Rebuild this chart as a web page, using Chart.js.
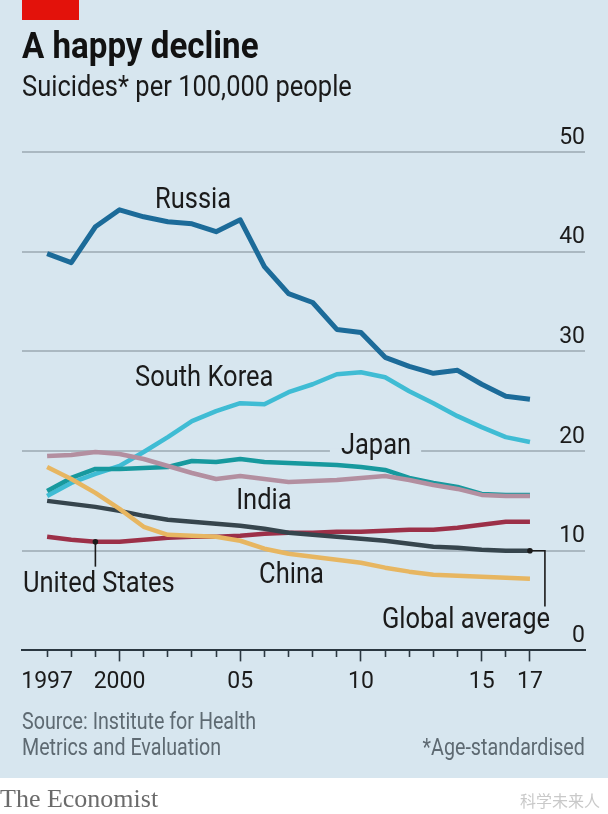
<!DOCTYPE html>
<html><head><meta charset="utf-8">
<script src="https://cdn.jsdelivr.net/npm/chart.js@4.4.1/dist/chart.umd.min.js"></script>
<style>
html,body{margin:0;padding:0;background:#fff;}
#wrap{position:relative;width:608px;height:814px;overflow:hidden;background:#fff;}
#panel{position:absolute;left:0;top:0;width:608px;height:778px;background:#d7e6ef;}
#red{position:absolute;left:22px;top:0;width:57px;height:20px;background:#e3120b;}
canvas{position:absolute;left:0;top:0;}
.t{position:absolute;white-space:nowrap;font-family:Roboto,"Noto Sans",sans-serif;line-height:1;z-index:2;transform-origin:left top;}
#title{left:22px;top:28px;font-size:36px;font-weight:bold;color:#121212;transform:scaleX(0.92);}
#sub{left:22px;top:71px;font-size:30px;color:#1a1a1a;transform:scaleX(0.85);}
#src{left:22px;top:707.7px;font-size:24px;line-height:26px;color:#5e6a72;transform:scaleX(0.82);}
#age{right:23px;top:733.7px;font-size:24px;line-height:26px;color:#5e6a72;transform:scaleX(0.82);transform-origin:right top;}
#econ{left:0;top:786px;font-family:"Liberation Serif","DejaVu Serif",serif;font-size:26px;color:#6b6b6b;}
#wm{right:8px;top:792px;font-family:"Noto Sans CJK SC",sans-serif;font-size:16px;color:#c9c9c9;}
</style></head>
<body>
<div id="wrap">
  <div id="panel"></div>
  <div id="red"></div>
  <div class="t" id="title">A happy decline</div>
  <div class="t" id="sub">Suicides* per 100,000 people</div>
  <canvas id="c" width="608" height="814"></canvas>
  <div class="t" id="src">Source: Institute for Health<br>Metrics and Evaluation</div>
  <div class="t" id="age">*Age-standardised</div>
  <div class="t" id="econ">The Economist</div>
  <div class="t" id="wm">科学未来人</div>
</div>
<script>
const years = [1997,1998,1999,2000,2001,2002,2003,2004,2005,2006,2007,2008,2009,2010,2011,2012,2013,2014,2015,2016,2017];
const russia     = [39.8,38.9,42.5,44.2,43.5,43.0,42.8,42.0,43.2,38.5,35.8,34.9,32.2,31.9,29.4,28.5,27.8,28.1,26.7,25.5,25.2];
const southKorea = [15.5,16.8,17.7,18.5,19.9,21.4,23.0,24.0,24.8,24.7,25.9,26.7,27.7,27.9,27.4,26.0,24.8,23.5,22.4,21.4,20.9];
const japan      = [16.0,17.3,18.2,18.2,18.3,18.4,19.0,18.9,19.2,18.9,18.8,18.7,18.6,18.4,18.1,17.3,16.8,16.4,15.7,15.6,15.6];
const india      = [19.5,19.6,19.9,19.7,19.2,18.5,17.8,17.2,17.5,17.2,16.9,17.0,17.1,17.3,17.5,17.1,16.6,16.2,15.6,15.5,15.5];
const unitedStates = [11.4,11.1,10.9,10.9,11.1,11.3,11.4,11.4,11.5,11.7,11.8,11.8,11.9,11.9,12.0,12.1,12.1,12.3,12.6,12.9,12.9];
const china      = [18.4,17.2,15.8,14.2,12.4,11.6,11.5,11.4,11.0,10.2,9.7,9.4,9.1,8.8,8.3,7.9,7.6,7.5,7.4,7.3,7.2];
const globalAvg  = [15.0,14.7,14.4,14.0,13.5,13.1,12.9,12.7,12.5,12.2,11.8,11.6,11.4,11.2,11.0,10.7,10.4,10.3,10.1,10.0,10.0];
const labeledYears = [2000,2005,2010,2015,2017];
const yearLabels = {1997:'1997',2000:'2000',2005:'05',2010:'10',2015:'15',2017:'17'};
const yTicks = [0,10,20,30,40,50];

const FONT = 'Roboto,"Noto Sans",sans-serif';
const BG = '#d7e6ef';
const SQUEEZE = 0.85;
const pts = arr => years.map((y,i)=>({x:y,y:arr[i]}));
const ds = (label, arr, color, w) => ({label, data: pts(arr), borderColor: color, borderWidth: w||4.5,
  pointRadius: 0, tension: 0, fill: false, borderJoinStyle: 'round', borderCapStyle: 'butt'});

// series labels anchored in data space: [text, year, value, align]
const seriesLabels = [
  ['Russia', 2001.47, 44.4, 'left'],
  ['South Korea', 2000.64, 26.5, 'left'],
  ['Japan', 2009.17, 19.7, 'left'],
  ['India', 2004.83, 14.2, 'left'],
  ['China', 2005.78, 6.8, 'left'],
  ['United States', 1996.0, 5.9, 'left'],
  ['Global average', 2017.83, 2.2, 'right']
];

const annot = {
  id: 'annot',
  beforeDatasetsDraw(chart) {
    const {ctx, scales:{x,y}} = chart;
    ctx.save();
    ctx.font = '30px ' + FONT;
    const j = seriesLabels[2];
    const lx = x.getPixelForValue(j[1]);
    const w = ctx.measureText(j[0]).width * SQUEEZE;
    ctx.fillStyle = BG;
    ctx.fillRect(lx - 11, y.getPixelForValue(20) - 3, w + 21, 6);
    ctx.restore();
  },
  afterDatasetsDraw(chart) {
    const {ctx, scales:{x,y}} = chart;
    ctx.save();
    ctx.font = '30px ' + FONT;
    ctx.fillStyle = '#1b1b1b';
    ctx.textBaseline = 'alphabetic';
    seriesLabels.forEach(([t, yr, v, al]) => {
      ctx.save();
      ctx.translate(x.getPixelForValue(yr), y.getPixelForValue(v));
      ctx.scale(SQUEEZE, 1);
      ctx.textAlign = al;
      ctx.fillText(t, 0, 0);
      ctx.restore();
    });
    // leader lines
    ctx.strokeStyle = '#1b1b1b';
    ctx.fillStyle = '#1b1b1b';
    ctx.lineWidth = 1.6;
    const ui = years.indexOf(1999);
    const ux = x.getPixelForValue(1999), uy = y.getPixelForValue(unitedStates[ui]);
    ctx.beginPath(); ctx.moveTo(ux, uy); ctx.lineTo(ux, y.getPixelForValue(8.4)); ctx.stroke();
    ctx.beginPath(); ctx.arc(ux, uy, 2.8, 0, Math.PI*2); ctx.fill();
    const gi = years.length - 1;
    const gx = x.getPixelForValue(2017), gy = y.getPixelForValue(globalAvg[gi]);
    const gx2 = x.getPixelForValue(2017.62);
    ctx.beginPath(); ctx.moveTo(gx, gy); ctx.lineTo(gx2, gy); ctx.lineTo(gx2, y.getPixelForValue(4.4)); ctx.stroke();
    ctx.beginPath(); ctx.arc(gx, gy, 2.8, 0, Math.PI*2); ctx.fill();
    ctx.restore();
  }
};

new Chart(document.getElementById('c'), {
  type: 'line',
  data: { datasets: [
    ds('India', india, '#b38fa0'),
    ds('China', china, '#e7b661'),
    ds('Global average', globalAvg, '#36454d'),
    ds('United States', unitedStates, '#9c3048'),
    ds('Japan', japan, '#17999e'),
    ds('South Korea', southKorea, '#3fbcd4'),
    ds('Russia', russia, '#1c6b99', 5)
  ]},
  options: {
    responsive: false, animation: false, devicePixelRatio: 1,
    layout: { padding: { left: 22, right: 23, top: 152, bottom: 111 } },
    plugins: { legend: { display: false }, tooltip: { enabled: false } },
    scales: {
      x: {
        type: 'linear', min: 1995.96, max: 2019.28,
        afterBuildTicks: s => { s.ticks = years.map(v => ({value: v})); },
        grid: { display: true, drawOnChartArea: false, drawTicks: true, tickLength: 11,
          tickColor: '#2a3740', tickWidth: 1.6,
          tickBorderDash: c => (c.tick && labeledYears.includes(c.tick.value)) ? [] : [6, 30] },
        border: { display: true, color: '#2a3740', width: 2 },
        ticks: { autoSkip: false, maxRotation: 0, padding: 7, color: '#1b1b1b',
          font: { family: FONT, size: 23 },
          callback: v => yearLabels[v] || '' }
      },
      y: {
        position: 'right', min: 0, max: 50,
        afterBuildTicks: s => { s.ticks = yTicks.map(v => ({value: v})); },
        grid: { drawTicks: false, lineWidth: 2, color: c => c.tick && c.tick.value === 0 ? 'rgba(0,0,0,0)' : '#aab8c1' },
        border: { display: false },
        ticks: { mirror: true, padding: 0, labelOffset: -14, color: '#1b1b1b',
          font: { family: FONT, size: 23 } }
      }
    }
  },
  plugins: [annot]
});
</script>
</body></html>
